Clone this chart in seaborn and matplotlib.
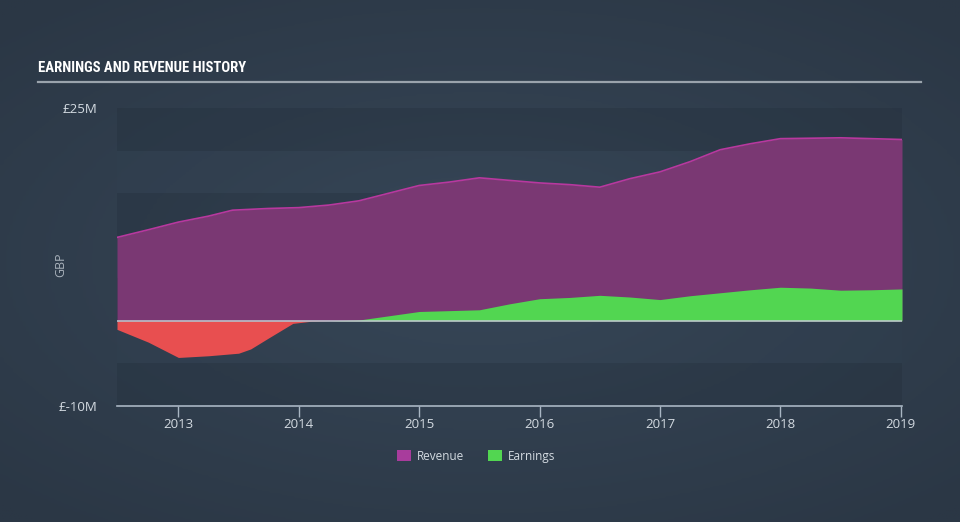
import numpy as np
import pandas as pd
import matplotlib
matplotlib.use("Agg")
import matplotlib.pyplot as plt
from matplotlib.patches import Patch
from matplotlib.colors import LinearSegmentedColormap
import seaborn as sns

# ---- data (GBP millions) ----
rev_years = [2012.49, 2012.75, 2013.0, 2013.25, 2013.45, 2013.75, 2014.0, 2014.25,
             2014.5, 2014.75, 2015.0, 2015.25, 2015.5, 2015.75, 2016.0, 2016.25,
             2016.5, 2016.75, 2017.0, 2017.25, 2017.5, 2017.75, 2018.0, 2018.5, 2019.01]
revenue = [9.8, 10.7, 11.6, 12.3, 13.0, 13.2, 13.3, 13.6,
           14.1, 15.0, 15.9, 16.3, 16.8, 16.5, 16.2, 16.0,
           15.7, 16.7, 17.5, 18.7, 20.1, 20.8, 21.4, 21.5, 21.3]

earn_years = [2012.49, 2012.75, 2013.0, 2013.25, 2013.5, 2013.6, 2013.75, 2013.95,
              2014.1, 2014.25, 2014.5, 2014.75, 2015.0, 2015.25, 2015.5, 2015.75,
              2016.0, 2016.25, 2016.5, 2016.75, 2017.0, 2017.25, 2017.5, 2017.75,
              2018.0, 2018.25, 2018.5, 2018.75, 2019.01]
earnings = [-1.0, -2.5, -4.3, -4.1, -3.8, -3.3, -2.0, -0.3,
            -0.05, 0.0, 0.1, 0.6, 1.1, 1.2, 1.3, 2.0,
            2.6, 2.75, 3.0, 2.8, 2.5, 2.95, 3.3, 3.65,
            3.95, 3.85, 3.6, 3.65, 3.75]

year_ticks = [2013, 2014, 2015, 2016, 2017, 2018, 2019]
y_ticks = [25, -10]
y_tick_labels = ["£25M", "£-10M"]

rev_df = pd.DataFrame({"year": rev_years, "value": revenue})
earn_df = pd.DataFrame({"year": earn_years, "value": earnings})

# ---- style ----
REV_FILL = "#7a3873"
REV_LINE = "#b8389f"
EARN_POS = "#52d651"
EARN_NEG = "#e84f50"
TEXT = "#d3dae1"
FONT = ["Open Sans", "DejaVu Sans"]

fig = plt.figure(figsize=(9.6, 5.22), dpi=100)

# background gradient
bg = fig.add_axes([0, 0, 1, 1], zorder=-10)
yy, xx = np.mgrid[-1:1:200j, -1:1:300j]
r = np.sqrt((xx * 0.9) ** 2 + (yy * 1.0) ** 2)
cmap = LinearSegmentedColormap.from_list("bg", ["#374758", "#2b3745"])
bg.imshow(r, cmap=cmap, aspect="auto", extent=[0, 1, 0, 1], vmin=0, vmax=1.3)
bg.axis("off")

ax = fig.add_axes([117 / 960, 1 - 406 / 522, (902 - 117) / 960, (406 - 108) / 522])
ax.set_facecolor("none")
ax.set_xlim(2012.49, 2019.01)
ax.set_ylim(-10, 25)

# bands
for lo, hi in [(20, 25), (10, 15), (0, 5), (-10, -5)]:
    ax.axhspan(lo, hi, color="#1f2a36", alpha=0.25, lw=0, zorder=0)
for lo, hi in [(15, 20), (5, 10), (-5, 0)]:
    ax.axhspan(lo, hi, color="#3a4a5b", alpha=0.08, lw=0, zorder=0)

# revenue
ax.fill_between(rev_df["year"], 0, rev_df["value"], color=REV_FILL, lw=0, zorder=2)
sns.lineplot(data=rev_df, x="year", y="value", ax=ax, color=REV_LINE, linewidth=1.2, zorder=3)

# earnings
ey = earn_df["year"].to_numpy()
ev = earn_df["value"].to_numpy()
ax.fill_between(ey, 0, ev, where=ev >= 0, interpolate=True, color=EARN_POS, lw=0, zorder=4)
ax.fill_between(ey, 0, ev, where=ev <= 0, interpolate=True, color=EARN_NEG, lw=0, zorder=4)
ax.axhline(0, color="#c2cad2", lw=1.1, zorder=5)

# axes styling
for s in ["top", "right", "left"]:
    ax.spines[s].set_visible(False)
ax.spines["bottom"].set_color("#a9b6c3")
ax.spines["bottom"].set_linewidth(1.2)
ax.set_xticks(year_ticks)
ax.set_xticklabels([str(y) for y in year_ticks], family=FONT, fontsize=9.5, color=TEXT)
ax.tick_params(axis="x", length=8, width=1, color="#a9b6c3", pad=1, direction="out")
ax.set_yticks(y_ticks)
ax.set_yticklabels(y_tick_labels, family=FONT, fontsize=9.5, color=TEXT)
ax.tick_params(axis="y", length=0, pad=14)
ax.set_xlabel("")
ax.set_ylabel("GBP", family=FONT, fontsize=9, color="#aab3bc")
ax.yaxis.set_label_coords((67 - 117) / 785, (406 - 265) / 298)
ax.grid(False)

# title + underline
fig.text(38 / 960, 1 - 68 / 522, "EARNINGS AND REVENUE HISTORY",
         family=["Roboto Condensed", "DejaVu Sans Condensed", "DejaVu Sans"],
         fontstretch="condensed", fontweight="bold",
         fontsize=10.6, color="#ffffff", va="center", ha="left")
fig.add_artist(plt.Line2D([38 / 960, 921 / 960], [1 - 82 / 522, 1 - 82 / 522],
                          color="#9aa3ac", lw=1.6))

# legend
handles = [Patch(facecolor="#a83c9c", edgecolor="none", label="Revenue"),
           Patch(facecolor=EARN_POS, edgecolor="none", label="Earnings")]
leg = fig.legend(handles=handles, loc="center", bbox_to_anchor=(476 / 960, 1 - 456 / 522),
                 ncol=2, frameon=False, handlelength=1.2, handleheight=1.0,
                 columnspacing=2.0, handletextpad=0.5,
                 prop={"family": FONT, "size": 8.5})
for t in leg.get_texts():
    t.set_color(TEXT)

fig.savefig("out.png", dpi=100)
